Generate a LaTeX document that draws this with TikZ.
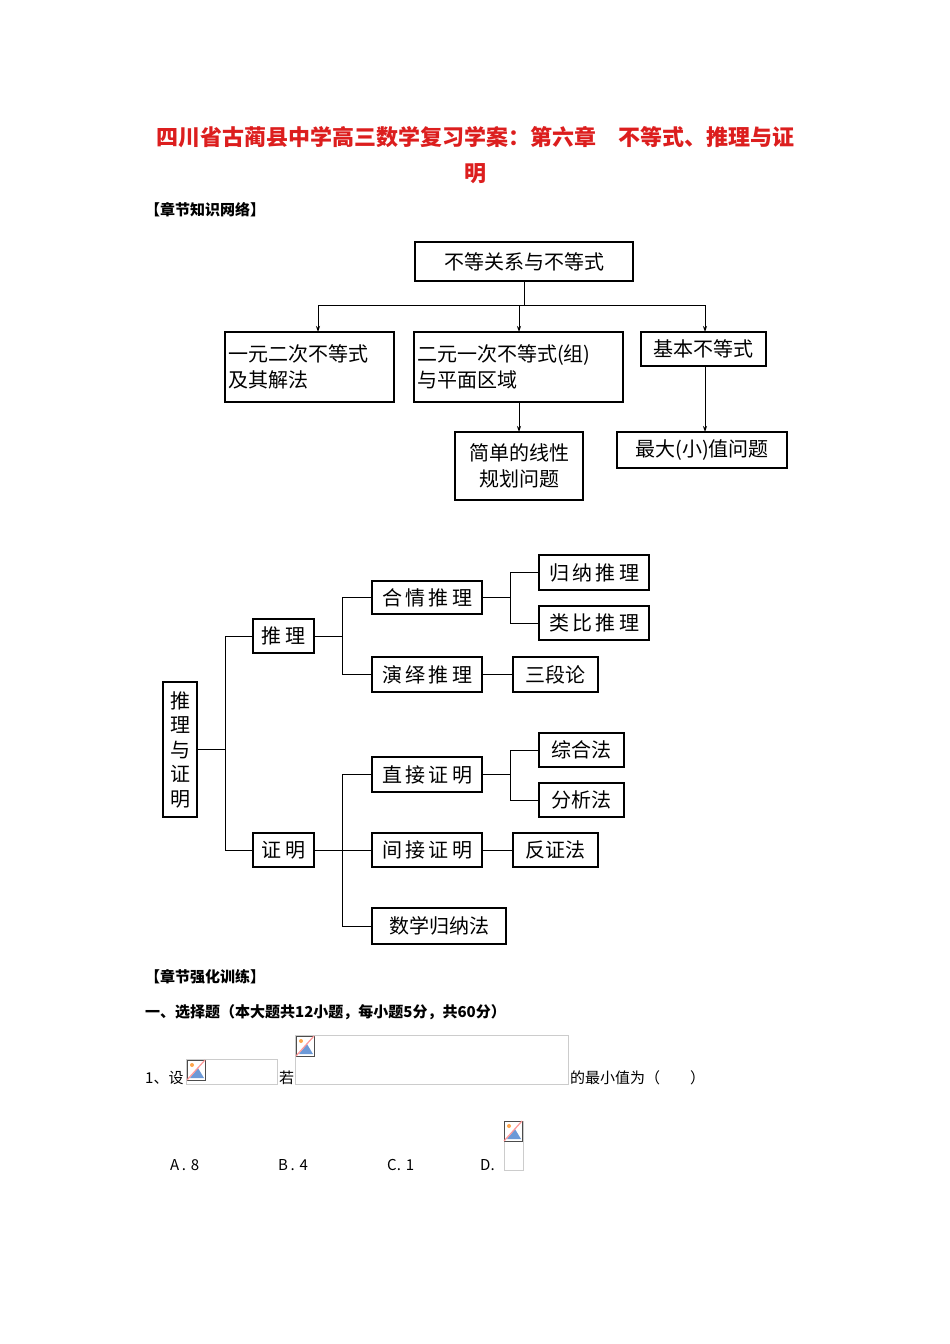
\documentclass[tikz,border=0pt]{standalone}
\usepackage{fontspec}
\setmainfont{Noto Sans CJK SC}
\usetikzlibrary{arrows.meta}
\definecolor{titred}{RGB}{220,30,30}
\begin{document}
\begin{tikzpicture}[x=1pt,y=-1pt,
  bx/.style={draw,line width=1.2pt,inner sep=0pt,font=\fontsize{20}{26}\selectfont},
  ln/.style={line width=0.9pt},
  ar/.style={ln,-{Stealth[length=6pt,width=4pt]}},
  ph/.style={draw=black!20,line width=0.6pt},
  txt/.style={inner sep=0pt,anchor=west,font=\fontsize{15}{17}\selectfont}]
\useasboundingbox (0,0) rectangle (950,1344);
% title
\node[inner sep=0pt,text=titred,font=\fontsize{22}{26}\selectfont\bfseries] (t1) at (475,137) {四川省古蔺县中学高三数学复习学案：第六章\quad 不等式、推理与证};
\node[inner sep=0pt,text=titred,font=\fontsize{22}{26}\selectfont\bfseries] (t2) at (475,174) {明};
\node[txt,font=\fontsize{15}{17}\selectfont\bfseries] (h1) at (145,210) {【章节知识网络】};
% boxes: left-aligned (L) and centred (C)
\newcommand{\bxl}[6]{\node[bx,minimum width=#4-#2,minimum height=#5-#3,align=left,text width=#4-#2-6] (#1) at ({(#2+#4)/2},{(#3+#5)/2}) {#6};}
\newcommand{\bxc}[6]{\node[bx,minimum width=#4-#2,minimum height=#5-#3,align=center] (#1) at ({(#2+#4)/2},{(#3+#5)/2}) {#6};}
\bxc{a}{415}{242}{633}{281}{不等关系与不等式}
\bxl{b1}{225}{332}{394}{402}{一元二次不等式\\及其解法}
\bxl{b2}{414}{332}{623}{402}{二元一次不等式(组)\\与平面区域}
\bxc{b3}{641}{332}{766}{366}{基本不等式}
\bxc{c2}{455}{432}{583}{500}{简单的线性\\规划问题}
\bxc{c3}{617}{432}{787}{468}{最大(小)值问题}
\coordinate (j) at (524,305);
\draw[ln] (a.south) -- (j);
\draw[ln] (318,305) -- (705,305);
\draw[ar] (318,305) -- (318,332);
\draw[ar] (519,305) -- (519,332);
\draw[ar] (705,305) -- (705,332);
\draw[ar] (519,402) -- (519,432);
\draw[ar] (705,366) -- (705,432);
% second diagram
\node[bx,minimum width=34,minimum height=135,align=center,font=\fontsize{20}{24.5}\selectfont] (r) at (180,749.5) {推\\理\\与\\证\\明};
\bxc{tl}{253}{619}{314}{653}{推\,理}
\bxc{zm}{253}{833}{314}{867}{证\,明}
\bxc{hq}{372}{581}{482}{614}{合\,情\,推\,理}
\bxc{yy}{372}{657}{482}{692}{演\,绎\,推\,理}
\bxc{zj}{372}{757}{482}{792}{直\,接\,证\,明}
\bxc{jj}{372}{833}{482}{867}{间\,接\,证\,明}
\bxc{sx}{372}{908}{506}{944}{数学归纳法}
\bxc{gn}{539}{555}{649}{590}{归\,纳\,推\,理}
\bxc{lb}{539}{606}{649}{640}{类\,比\,推\,理}
\bxc{sd}{513}{657}{598}{692}{三段论}
\bxc{zh}{539}{733}{624}{767}{综合法}
\bxc{fx}{539}{783}{624}{817}{分析法}
\bxc{fz}{513}{833}{598}{867}{反证法}
\draw[ln] (r.east) -- (225,749.5);
\draw[ln] (tl.west) -| (225,850) -- (zm.west);
\draw[ln] (tl.east) -- (342,636);
\draw[ln] (hq.west) -| (342,674.5) -- (yy.west);
\draw[ln] (zm.east) -- (jj.west);
\draw[ln] (zj.west) -| (342,926) -- (sx.west);
\draw[ln] (hq.east) -- (510,597.5);
\draw[ln] (gn.west) -| (510,623) -- (lb.west);
\draw[ln] (yy.east) -- (sd.west);
\draw[ln] (zj.east) -- (510,774.5);
\draw[ln] (zh.west) -| (510,800) -- (fx.west);
\draw[ln] (jj.east) -- (fz.west);
% bottom text
\node[txt,font=\fontsize{15}{17}\selectfont\bfseries] (h2) at (145,977) {【章节强化训练】};
\node[txt,font=\fontsize{15}{17}\selectfont\bfseries] (h3) at (145,1012) {一、选择题（本大题共12小题，每小题5分，共60分）};
\node[txt] (q1) at (145,1078) {1、设};
\node[txt] (q2) at (279,1078) {若};
\node[txt] (q3) at (570,1078) {的最小值为（\quad\quad ）};
\newcommand{\icon}[2]{%
  \fill[white] (#1,#2) rectangle ++(18,20);
  \fill[cyan!50!blue!60] (#1+3,#2+18) -- (#1+11,#2+8) -- (#1+17,#2+18) -- cycle;
  \fill[orange!70] (#1+5,#2+5) circle (2);
  \draw[black!70,line width=0.8pt] (#1,#2) rectangle ++(18,20);
  \draw[red!40,line width=1.2pt] (#1,#2+20) -- (#1+18,#2);}
\draw[ph] (186,1059) rectangle (277,1084);
\icon{187}{1060}
\draw[ph] (295,1035) rectangle (568,1084);
\icon{296}{1036}
\draw[ph] (504,1121) rectangle (523,1170);
\icon{504}{1121}
\node[txt] (oa) at (170,1165) {A\,.\,\,8};
\node[txt] (ob) at (278,1165) {B\,.\,\,4};
\node[txt] (oc) at (387,1165) {C.\,\,1};
\node[txt] (od) at (480,1165) {D.};
\end{tikzpicture}
\end{document}
